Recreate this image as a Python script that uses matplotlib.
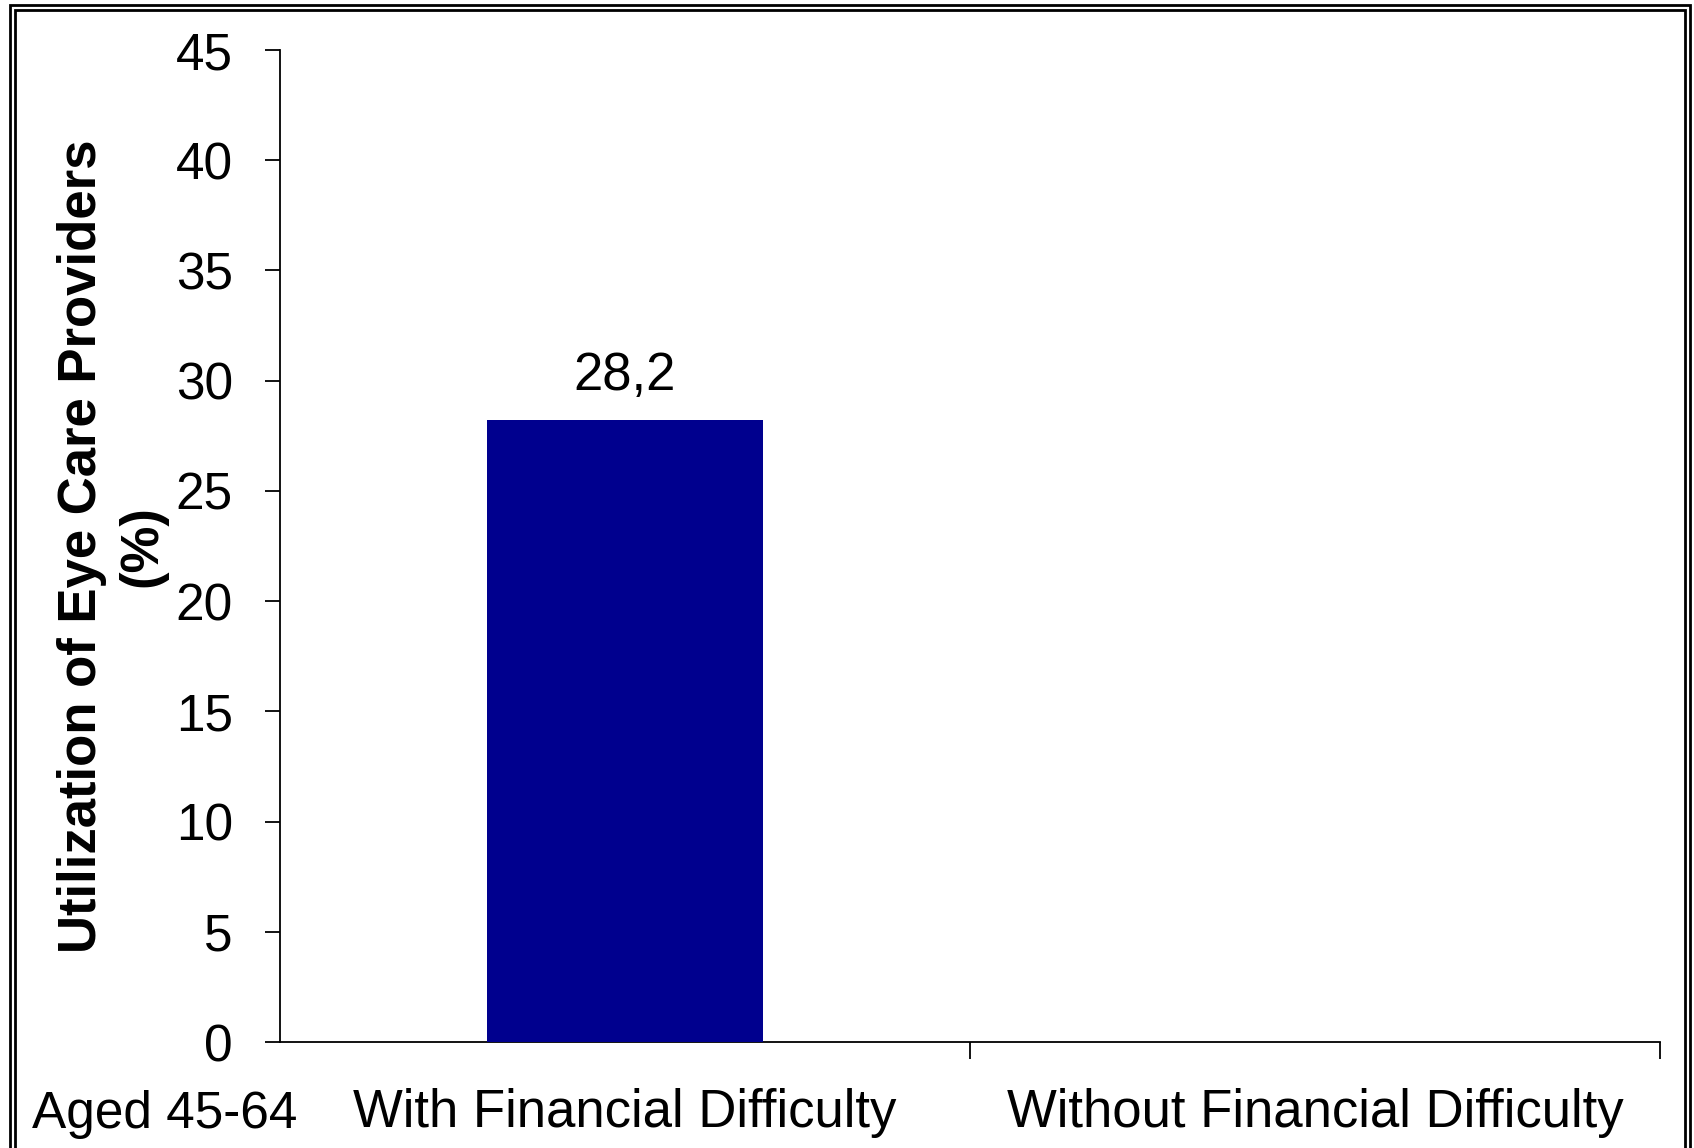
import matplotlib
matplotlib.use("Agg")
import matplotlib.pyplot as plt
from matplotlib.lines import Line2D

categories = ["With Financial Difficulty", "Without Financial Difficulty"]
values = [28.2, None]
value_labels = ["28,2", ""]
yticks = [0, 5, 10, 15, 20, 25, 30, 35, 40, 45]
ylabel = "Utilization of Eye Care Providers\n(%)"
group_label = "Aged 45-64"

plt.rcParams['font.family'] = ['Liberation Sans', 'DejaVu Sans']

W, H = 1694, 1148
fig = plt.figure(figsize=(W / 100, H / 100), dpi=100)
ax = fig.add_axes([280 / W, 1 - 1042 / H, (1660 - 280) / W, (1042 - 50) / H])

xs = [i for i, v in enumerate(values) if v is not None]
vs = [v for v in values if v is not None]
ax.bar(xs, vs, width=0.4, color="#00008E", zorder=3)
for x, v, lab in zip(xs, vs, [value_labels[i] for i in xs]):
    ax.annotate(lab, (x, v), xytext=(0, 14), textcoords="offset points",
                ha="center", va="bottom", fontsize=38)

ax.set_xlim(-0.5, len(categories) - 0.5)
ax.set_ylim(0, 45)
ax.set_yticks(yticks)
ax.set_yticklabels([str(t) for t in yticks], fontsize=37)
ax.tick_params(axis="y", length=11, width=1.3, pad=23, direction="out")

# category boundaries as major ticks, labels at centers
ax.set_xticks([i + 0.5 for i in range(len(categories))])
ax.set_xticklabels([])
ax.set_xticks(list(range(len(categories))), minor=True)
ax.set_xticklabels(categories, minor=True, fontsize=38)
ax.tick_params(axis="x", which="major", length=12, width=1.3, direction="out")
ax.tick_params(axis="x", which="minor", length=0, pad=33)

for s in ["top", "right"]:
    ax.spines[s].set_visible(False)
for s in ["left", "bottom"]:
    ax.spines[s].set_linewidth(1.3)

ax.set_ylabel(ylabel, fontsize=38, fontweight="bold", linespacing=1.25)
ax.yaxis.label.set_verticalalignment("center")
ax.yaxis.label.set_horizontalalignment("center")
ax.yaxis.set_label_coords((112 - 280) / 1380, (1042 - 546) / 992)

fig.text(32 / W, 1 - 1128 / H, group_label, fontsize=37, ha="left", va="baseline")

# double border frame (bottom edge lies outside the picture)
for (l, t, r) in [(10, 5, 1689.5), (15, 10, 1684.5)]:
    xs_ = [l / W, l / W, r / W, r / W]
    ys_ = [-0.05, 1 - t / H, 1 - t / H, -0.05]
    fig.add_artist(Line2D(xs_, ys_, transform=fig.transFigure, color="black",
                          linewidth=2.0, solid_joinstyle="miter"))

fig.savefig("out.png", dpi=100)
